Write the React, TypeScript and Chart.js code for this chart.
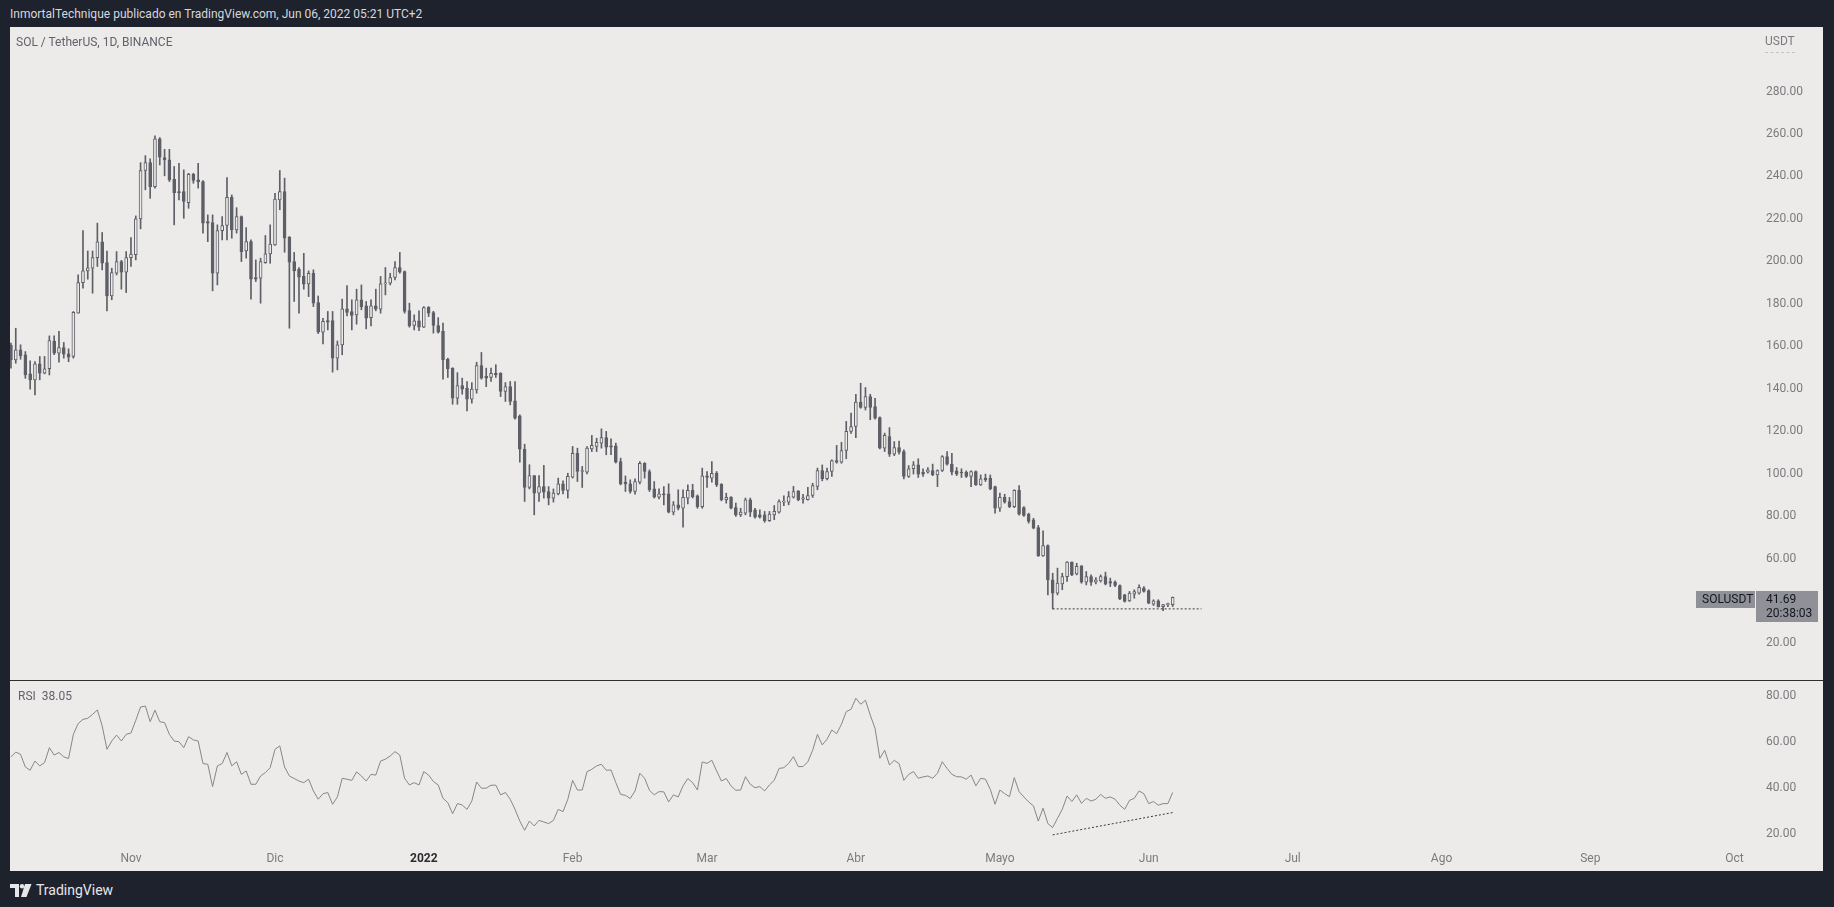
import React, { useEffect, useRef } from 'react';
import { Chart, registerables } from 'chart.js';

Chart.register(...registerables);

// ---------- DATA ----------
const START_DATE = '2021-10-07';
const EPOCH = '2021-11-01';

const opens = [
  // Oct 7-31
  160.5,153.6,158.3,156.0,147.0,144.2,151.7,147.3,149.4,162.5,156.7,159.4,156.4,155.2,175.6,190.0,195.5,196.8,201.8,209.2,199.4,183.7,194.4,199.9,194.9,
  // Nov
  201.8,203.1,220.0,242.8,246.5,235.2,257.7,248.9,247.8,238.7,232.9,232.9,227.7,241.0,238.4,237.6,218.8,218.3,194.4,214.5,216.9,230.2,214.8,221.1,204.9,209.3,192.4,192.1,199.4,203.5,
  // Dec
  207.8,228.9,232.9,211.4,199.9,196.3,192.9,189.4,194.4,180.6,166.6,172.1,172.1,154.4,160.7,177.6,176.4,174.8,181.9,179.0,173.5,179.0,177.5,189.4,189.7,192.4,197.1,195.2,176.8,169.8,172.0,
  // Jan
  169.0,178.3,175.9,169.8,167.0,153.9,149.7,135.6,141.5,140.3,135.1,139.5,150.9,145.8,145.3,147.3,147.3,138.7,141.0,134.3,127.2,111.5,93.5,99.1,90.8,93.9,91.6,88.5,90.5,95.2,92.1,
  // Feb
  98.4,109.6,101.0,100.7,111.7,112.8,114.4,117.0,113.1,113.1,105.7,96.0,95.2,91.6,96.0,104.9,101.0,92.8,88.9,90.5,90.5,81.9,85.3,83.7,88.5,92.1,89.6,84.5,
  // Mar
  99.0,97.9,100.2,95.0,87.7,88.8,84.0,80.6,81.4,87.7,83.0,80.6,80.6,77.8,80.6,81.9,86.6,86.6,88.9,91.9,88.0,87.7,89.7,94.0,101.5,97.6,101.0,106.2,105.4,110.9,119.9,
  // Apr
  122.2,133.7,131.2,136.3,131.6,126.4,112.0,117.5,109.2,112.3,110.4,98.7,102.3,104.1,100.7,100.7,101.5,99.4,101.5,108.1,104.5,101.3,100.6,100.6,98.7,101.0,94.7,97.9,97.9,93.9,
  // May
  83.7,88.8,86.9,84.5,92.1,84.0,80.9,78.3,74.6,61.3,66.1,50.0,43.7,48.1,51.5,58.3,52.8,56.6,48.9,51.5,48.9,49.5,51.5,49.2,48.9,47.3,42.9,40.1,43.2,43.7,46.1,
  // Jun 1-6
  44.9,38.5,40.1,37.4,38.3,38.3,
];

const highs = [
  161.5,168.5,160.7,157.5,153.1,152.8,155.2,155.2,164.9,164.9,167.0,161.8,158.8,176.4,193.6,214.5,204.9,204.9,218.0,213.6,204.9,196.8,204.6,200.5,204.6,
  211.2,221.4,246.5,249.8,248.3,259.1,258.3,252.8,252.8,244.7,246.2,243.1,241.5,241.5,246.2,238.0,221.9,221.9,217.2,221.1,239.5,231.3,225.3,221.4,215.9,210.1,200.7,201.5,212.2,217.2,
  232.1,242.8,239.2,211.7,204.2,197.1,203.8,195.5,196.0,183.7,173.2,176.4,176.4,162.5,182.2,188.6,181.9,186.9,188.9,181.1,181.9,186.9,192.9,197.1,194.4,199.9,204.2,195.5,180.3,174.8,176.7,
  178.7,178.7,176.5,173.5,170.9,154.4,149.9,147.6,145.0,143.4,142.9,152.5,157.1,149.7,149.7,151.3,147.6,142.9,143.4,143.4,127.7,113.9,104.2,99.1,99.1,103.9,93.9,92.8,97.9,96.6,100.2,
  112.8,112.0,103.4,112.8,118.0,116.7,121.1,119.9,116.4,114.4,107.3,98.9,97.1,97.6,105.7,105.2,101.8,96.3,92.8,93.9,95.2,86.9,92.4,92.4,94.7,95.0,90.0,102.6,
  101.0,105.7,101.0,95.3,90.8,89.2,86.1,83.7,88.5,88.5,83.7,83.0,82.2,82.2,85.0,87.7,89.6,91.6,94.0,92.0,90.3,93.5,95.5,102.6,104.1,102.6,106.5,113.3,114.8,124.6,128.5,
  137.4,142.6,140.6,137.4,135.5,126.8,119.1,121.7,115.1,115.4,111.2,103.8,105.7,107.0,102.3,102.9,104.5,101.8,108.5,110.4,109.6,102.9,102.3,101.3,101.3,101.3,99.4,99.8,99.4,94.2,
  90.8,90.3,88.8,92.4,94.4,84.5,81.4,79.0,75.6,73.1,66.5,53.1,55.5,53.1,58.6,58.5,57.8,56.7,53.9,52.3,51.1,52.3,53.6,50.8,49.5,47.6,43.2,44.5,45.3,47.6,46.8,
  45.3,40.6,40.6,38.5,39.0,41.9,
];

const lows = [
  149.7,152.0,153.9,144.9,139.8,137.1,144.2,147.0,146.5,156.0,152.5,154.4,152.7,154.4,175.6,187.4,191.6,185.0,197.6,196.0,176.7,181.9,193.6,186.9,185.3,
  197.6,200.7,215.3,233.7,229.7,234.5,245.4,240.3,237.6,217.2,228.9,220.3,225.0,236.8,234.5,213.3,209.3,186.1,188.9,210.1,210.1,210.9,213.3,199.9,201.5,182.2,190.5,180.3,199.1,199.1,
  207.5,224.3,204.3,168.5,181.1,175.6,186.9,183.4,178.7,166.0,161.1,167.7,147.8,148.9,156.0,174.3,167.7,170.4,177.2,168.2,169.6,176.7,175.6,184.2,188.9,191.3,194.4,175.6,169.0,167.7,167.3,
  168.8,174.0,166.2,166.2,144.5,145.3,132.7,132.7,137.4,129.6,133.2,137.9,144.5,141.0,143.4,145.3,136.3,134.0,132.4,125.7,105.4,86.9,92.8,80.6,86.9,88.5,85.3,86.6,90.0,90.5,88.5,
  97.9,96.3,93.5,99.9,110.4,110.4,112.0,108.9,108.9,105.0,94.7,91.6,90.8,90.3,95.2,97.9,91.6,88.5,88.1,85.3,81.5,80.6,82.9,74.8,85.8,88.5,83.7,83.7,
  93.5,96.0,93.9,87.2,86.1,83.4,79.8,79.8,80.6,79.8,79.0,79.0,77.1,77.5,78.3,81.4,84.9,85.3,88.5,87.2,86.1,87.5,88.8,92.4,96.6,97.1,98.7,104.9,104.9,107.0,119.0,
  117.0,130.8,130.0,125.4,125.7,111.7,110.4,108.1,108.5,109.2,97.5,98.2,99.8,98.2,98.7,100.2,99.0,93.9,101.0,104.0,99.4,99.1,98.2,98.2,93.9,94.4,94.4,96.3,92.4,81.4,
  82.2,86.1,84.0,84.0,80.5,79.8,76.7,74.0,61.0,61.0,42.9,36.3,42.9,45.3,49.2,52.0,52.3,48.4,47.6,47.3,48.1,48.9,47.6,46.8,46.8,40.6,39.5,39.8,41.3,43.2,44.2,
  38.7,37.9,37.1,35.4,37.4,37.4,
];

const closes = [
  153.6,158.3,155.5,146.5,144.2,151.7,147.3,149.4,162.7,156.7,159.4,156.3,154.9,176.0,190.0,195.5,196.9,201.8,209.2,199.1,183.7,194.7,199.9,194.9,201.8,
  203.4,220.0,242.8,246.5,235.2,257.7,249.1,247.8,238.4,232.4,232.4,228.2,241.0,238.1,237.6,218.0,218.0,194.4,214.5,216.9,230.2,214.8,221.1,204.6,209.3,191.6,191.6,199.9,203.5,208.1,
  229.3,232.9,210.9,199.6,195.5,192.5,189.2,194.4,180.3,166.6,171.7,171.3,154.4,160.7,177.6,176.0,174.5,181.9,178.7,173.2,179.0,177.5,189.4,189.7,192.4,197.1,194.9,176.4,169.6,172.0,169.0,
  178.2,175.6,169.8,166.6,153.6,149.4,135.6,141.5,139.8,135.1,139.8,150.9,145.0,145.0,147.3,146.5,138.7,141.0,134.0,126.1,111.5,93.5,99.1,90.8,93.9,91.3,88.5,90.8,95.2,92.1,98.7,
  109.6,101.0,101.3,112.0,113.3,114.8,117.0,112.5,112.5,105.4,95.2,95.2,91.6,96.3,104.9,101.0,92.4,88.9,90.5,90.0,81.9,85.3,83.7,88.8,92.1,89.2,84.5,99.0,
  98.2,100.2,94.7,87.7,88.8,83.7,80.6,81.9,87.7,81.9,79.5,79.5,77.8,80.9,82.2,86.9,86.9,89.2,91.6,87.7,88.6,89.7,94.4,101.5,97.6,101.0,106.2,105.4,110.9,119.9,122.2,
  133.7,131.2,136.3,131.2,126.1,112.0,118.0,109.2,112.3,110.1,98.7,102.3,104.1,99.8,99.8,101.8,99.4,101.5,108.1,104.5,100.7,99.8,100.3,98.7,101.0,94.7,97.6,97.1,92.8,83.7,
  88.8,86.6,84.5,92.1,80.9,80.3,77.5,74.3,61.3,66.1,50.0,43.7,48.4,51.5,58.3,52.3,56.3,48.9,51.5,48.9,50.0,51.5,47.9,48.4,47.3,41.0,39.8,43.7,44.5,46.4,44.5,
  39.0,40.1,37.4,38.3,38.7,41.69,
];

const rsiValues = [
  53.5,55.6,54.6,49.1,47.7,51.7,49.6,51.0,57.5,54.3,55.4,53.5,52.8,63.3,68.0,69.8,70.3,72.0,73.9,67.0,56.8,60.4,63.0,60.4,63.3,
  63.9,69.4,75.2,75.6,68.8,73.8,68.8,68.4,63.3,60.4,60.1,57.5,62.3,60.9,60.4,50.6,50.3,40.6,49.6,50.6,55.4,49.6,51.4,45.9,47.4,41.6,41.6,45.2,46.7,48.8,
  56.8,58.3,49.1,45.2,44.1,43.0,42.3,43.8,38.7,35.1,37.5,38.0,32.9,36.1,44.2,43.8,43.3,47.0,45.2,43.0,45.9,45.6,51.7,52.5,53.9,55.8,54.3,44.2,41.3,42.3,41.3,
  47.1,45.6,42.8,41.3,35.5,33.6,28.8,33.2,32.6,30.7,34.3,42.6,39.9,39.9,41.2,41.2,37.0,38.0,35.1,30.7,25.6,21.6,25.6,23.5,25.9,25.2,24.5,25.9,30.7,29.7,35.1,
  43.3,39.1,39.1,47.1,48.1,49.6,50.3,47.7,47.8,42.3,37.2,36.8,35.4,38.7,46.4,44.2,39.0,37.0,38.4,38.3,33.9,37.0,36.1,40.9,44.1,42.3,39.1,51.3,
  50.7,52.0,47.4,43.0,44.1,40.9,39.0,39.1,44.9,41.6,40.1,40.6,38.7,41.3,43.3,48.5,48.8,50.7,53.6,49.3,49.3,51.4,56.4,63.3,58.7,61.2,65.2,63.6,67.7,73.2,74.2,
  79.0,76.4,78.1,71.7,65.9,52.9,56.4,50.0,52.0,50.6,43.3,45.9,47.1,44.2,44.8,45.2,44.2,46.4,51.4,48.5,45.9,44.9,44.8,43.8,45.6,40.9,44.2,43.8,39.4,32.9,
  39.1,37.5,36.2,44.5,38.4,36.1,33.9,32.2,25.6,31.2,24.5,22.8,26.8,30.7,36.5,34.1,37.0,33.3,35.5,34.3,35.1,37.2,35.5,36.1,35.1,32.5,30.7,34.6,35.5,38.7,37.5,
  33.2,34.1,32.5,33.2,33.2,38.05,
];

const monthTickDates = ['2021-11-01','2021-12-01','2022-01-01','2022-02-01','2022-03-01','2022-04-01','2022-05-01','2022-06-01','2022-07-01','2022-08-01','2022-09-01','2022-10-01'];
const monthTickLabels = ['Nov','Dic','2022','Feb','Mar','Abr','Mayo','Jun','Jul','Ago','Sep','Oct'];
const priceTicks = [20,40,60,80,100,120,140,160,180,200,220,240,260,280];
const rsiTicks = [20,40,60,80];
const supportLineDates = ['2022-05-12','2022-06-12'];
const rsiTrendDates = ['2022-05-12','2022-06-06'];
const rsiTrendValues = [19.6, 29.3];
const SYMBOL = 'SOLUSDT';
const COUNTDOWN = '20:38:03';

// ---------- STYLE ----------
const FONT = 'Roboto, "Noto Sans", sans-serif';
const FRAME = '#1e222d';
const BG = '#ecebe9';
const CANDLE = '#5e5f67';
const AXIS_TEXT = '#7b7b7f';
const X_MIN = -25.2;
const X_MAX = 338.3;
const AXIS_W = 68;

const DAY = 86400000;
const dayOffset = (iso: string) =>
  Math.round((Date.parse(iso + 'T00:00:00Z') - Date.parse(EPOCH + 'T00:00:00Z')) / DAY);
const startX = dayOffset(START_DATE);
const xs = closes.map((_, i) => startX + i);
const lastPrice = closes[closes.length - 1];
const lastRsi = rsiValues[rsiValues.length - 1];
const supportIdx = xs.indexOf(dayOffset(supportLineDates[0]));
const supportLevel = lows[supportIdx];

const fitY = (s: any) => {
  s.width = AXIS_W;
  s.paddingTop = 0;
  s.paddingBottom = 0;
};

const priceLabelPlugin = {
  id: 'priceLabel',
  afterDraw(chart: any) {
    const { ctx, chartArea, scales } = chart;
    const y = Math.round(scales.y.getPixelForValue(lastPrice));
    ctx.save();
    ctx.fillStyle = '#8f9197';
    ctx.fillRect(chartArea.right - 59, y - 6, 59, 17);
    ctx.fillRect(chartArea.right + 1, y - 6, 62, 31);
    ctx.fillStyle = '#131722';
    ctx.font = '12px ' + FONT;
    ctx.textBaseline = 'middle';
    ctx.textAlign = 'left';
    ctx.fillText(SYMBOL, chartArea.right - 53, y + 2.5);
    ctx.fillText(lastPrice.toFixed(2), chartArea.right + 11, y + 2.5);
    ctx.fillText(COUNTDOWN, chartArea.right + 11, y + 16.5);
    ctx.restore();
  },
};

function PriceChart() {
  const ref = useRef<HTMLCanvasElement | null>(null);
  useEffect(() => {
    const chart = new Chart(ref.current as HTMLCanvasElement, {
      type: 'bar',
      data: {
        datasets: [
          {
            type: 'line',
            data: supportLineDates.map((d) => ({ x: dayOffset(d), y: supportLevel })),
            borderColor: '#3a3a3e',
            borderWidth: 1,
            borderDash: [2, 2],
            pointRadius: 0,
          } as any,
          {
            type: 'bar',
            data: xs.map((x, i) => ({ x, y: [opens[i], closes[i]] })),
            backgroundColor: (c: any) => (closes[c.dataIndex] >= opens[c.dataIndex] ? BG : CANDLE),
            borderColor: CANDLE,
            borderWidth: 1,
            borderSkipped: false,
            barThickness: 3,
            minBarLength: 1,
            grouped: false,
          } as any,
          {
            type: 'bar',
            data: xs.map((x, i) => ({ x, y: [lows[i], highs[i]] })),
            backgroundColor: CANDLE,
            borderWidth: 0,
            barThickness: 1,
            grouped: false,
          } as any,
        ],
      },
      options: {
        responsive: false,
        animation: false,
        devicePixelRatio: 1,
        layout: { padding: 0, autoPadding: false },
        plugins: { legend: { display: false }, tooltip: { enabled: false } },
        scales: {
          x: {
            type: 'linear',
            min: X_MIN,
            max: X_MAX,
            offset: false,
            display: false,
            grid: { display: false },
          },
          y: {
            position: 'right',
            min: 2.8,
            max: 310.4,
            afterBuildTicks: (s: any) => {
              s.ticks = priceTicks.map((v) => ({ value: v }));
            },
            afterFit: fitY,
            grid: { display: false, drawTicks: false },
            border: { display: false },
            ticks: {
              padding: 11,
              color: AXIS_TEXT,
              font: { family: FONT, size: 12 },
              callback: (v: any) => Number(v).toFixed(2),
            },
          },
        },
      } as any,
      plugins: [priceLabelPlugin],
    });
    return () => chart.destroy();
  }, []);
  return (
    <canvas
      ref={ref}
      width={1813}
      height={653}
      style={{ position: 'absolute', left: 10, top: 27, width: 1813, height: 653 }}
    />
  );
}

function RsiChart() {
  const ref = useRef<HTMLCanvasElement | null>(null);
  useEffect(() => {
    const chart = new Chart(ref.current as HTMLCanvasElement, {
      type: 'line',
      data: {
        datasets: [
          {
            data: rsiTrendDates.map((d, i) => ({ x: dayOffset(d), y: rsiTrendValues[i] })),
            borderColor: '#3a3a3e',
            borderWidth: 1,
            borderDash: [2, 2],
            pointRadius: 0,
          },
          {
            data: xs.map((x, i) => ({ x, y: rsiValues[i] })),
            borderColor: '#86868a',
            borderWidth: 1,
            pointRadius: 0,
            tension: 0,
          },
        ],
      },
      options: {
        responsive: false,
        animation: false,
        devicePixelRatio: 1,
        layout: { padding: 0, autoPadding: false },
        plugins: { legend: { display: false }, tooltip: { enabled: false } },
        scales: {
          x: {
            type: 'linear',
            min: X_MIN,
            max: X_MAX,
            position: 'bottom',
            afterBuildTicks: (s: any) => {
              s.ticks = monthTickDates.map((d) => ({ value: dayOffset(d) }));
            },
            afterFit: (s: any) => {
              s.height = 26;
              s.paddingLeft = 0;
              s.paddingRight = 0;
            },
            grid: { display: false, drawTicks: false },
            border: { display: false },
            ticks: {
              autoSkip: false,
              maxRotation: 0,
              padding: 7,
              color: (c: any) => (monthTickLabels[c.index] === '2022' ? '#2c2c30' : AXIS_TEXT),
              font: (c: any) => ({
                family: FONT,
                size: 12,
                weight: monthTickLabels[c.index] === '2022' ? 'bold' : 'normal',
              }),
              callback: (_v: any, i: number) => monthTickLabels[i],
            },
          },
          y: {
            position: 'right',
            min: 15.2,
            max: 86.5,
            afterBuildTicks: (s: any) => {
              s.ticks = rsiTicks.map((v) => ({ value: v }));
            },
            afterFit: fitY,
            grid: { display: false, drawTicks: false },
            border: { display: false },
            ticks: {
              padding: 11,
              color: AXIS_TEXT,
              font: { family: FONT, size: 12 },
              callback: (v: any) => Number(v).toFixed(2),
            },
          },
        },
      } as any,
    });
    return () => chart.destroy();
  }, []);
  return (
    <canvas
      ref={ref}
      width={1813}
      height={190}
      style={{ position: 'absolute', left: 10, top: 681, width: 1813, height: 190 }}
    />
  );
}

export default function App() {
  useEffect(() => {
    document.body.style.margin = '0';
  }, []);
  const text = (extra: any) => ({
    position: 'absolute' as const,
    fontFamily: FONT,
    whiteSpace: 'nowrap' as const,
    ...extra,
  });
  return (
    <div style={{ position: 'fixed', left: 0, top: 0, width: 1834, height: 907, background: FRAME, overflow: 'hidden' }}>
      <div style={text({ left: 10, top: 5, fontSize: 12, lineHeight: '18px', color: '#d6d7dc' })}>
        InmortalTechnique publicado en TradingView.com, Jun 06, 2022 05:21 UTC+2
      </div>
      <div style={{ position: 'absolute', left: 10, top: 27, width: 1813, height: 844, background: BG }} />
      <PriceChart />
      <div style={{ position: 'absolute', left: 10, top: 680, width: 1813, height: 1, background: '#2e2f33' }} />
      <RsiChart />
      <div style={text({ left: 16, top: 34, fontSize: 12, lineHeight: '16px', color: '#60636c' })}>
        SOL / TetherUS, 1D, BINANCE
      </div>
      <div style={text({ left: 1765, top: 33, fontSize: 12, lineHeight: '16px', color: AXIS_TEXT, borderBottom: '1px dashed #c4c4c6', paddingBottom: 3 })}>
        USDT
      </div>
      <div style={text({ left: 18, top: 688, fontSize: 12, lineHeight: '16px', color: '#60636c' })}>
        RSI&nbsp;&nbsp;{lastRsi.toFixed(2)}
      </div>
      <div style={{ position: 'absolute', left: 10, top: 882, display: 'flex', alignItems: 'center' }}>
        <svg width="22" height="13" viewBox="0 0 22 13">
          <path d="M0 0h9v13H5V4H0z" fill="#e6e6ea" />
          <circle cx="12" cy="2.2" r="2.2" fill="#e6e6ea" />
          <path d="M15 0h6.5l-5 13H11z" fill="#e6e6ea" />
        </svg>
        <span style={{ fontFamily: FONT, fontSize: 14, color: '#e6e6ea', marginLeft: 4, lineHeight: '16px' }}>TradingView</span>
      </div>
    </div>
  );
}
